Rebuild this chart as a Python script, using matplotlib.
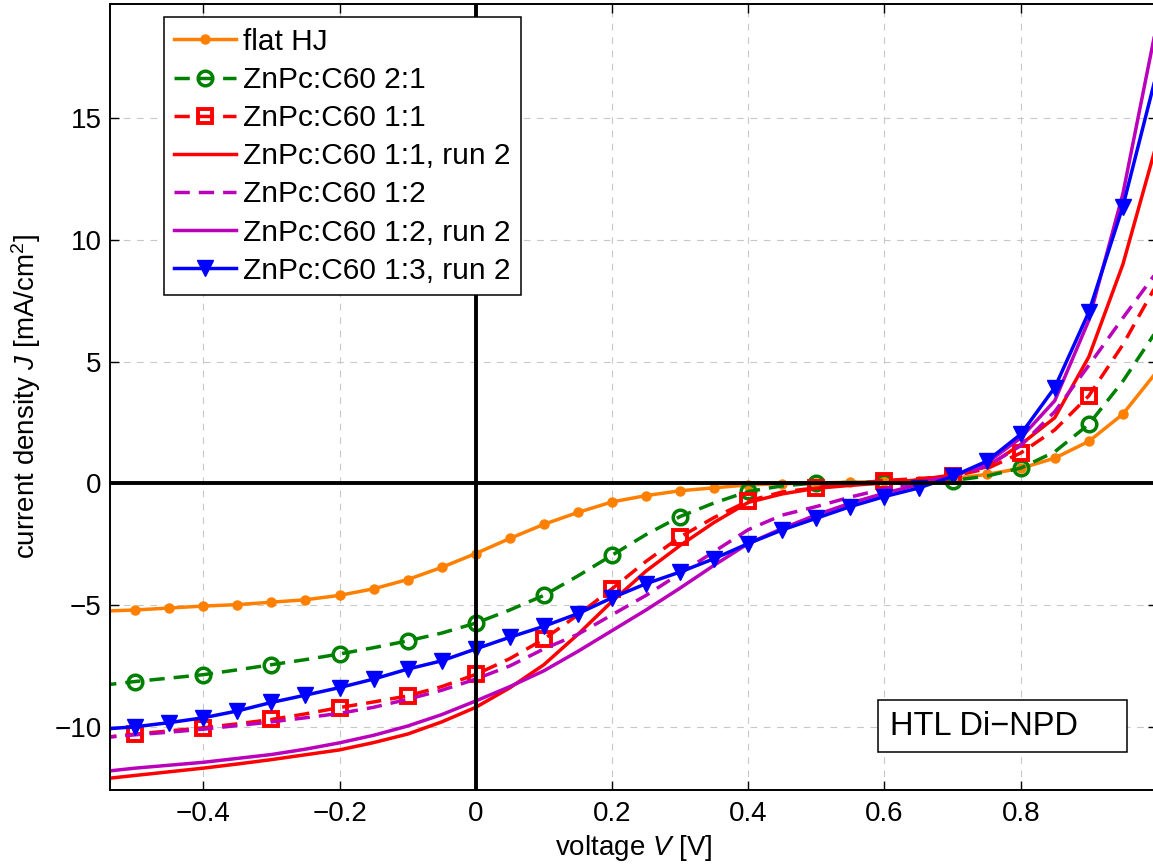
import matplotlib
matplotlib.use("Agg")
import matplotlib.pyplot as plt
from matplotlib.patches import Rectangle
import numpy as np

plt.rcParams['font.family'] = ['Liberation Sans', 'DejaVu Sans']
plt.rcParams['mathtext.fontset'] = 'custom'
plt.rcParams['mathtext.rm'] = 'Liberation Sans'
plt.rcParams['mathtext.it'] = 'Liberation Sans:italic'

# voltage grid, -0.55 ... 1.0 V in 0.05 V steps
volt = np.round(np.arange(-0.55, 1.0001, 0.05), 2)

# current density J [mA/cm^2]
flat_hj = [-5.25, -5.2, -5.12, -5.04, -4.98, -4.88, -4.78, -4.6, -4.33, -3.95, -3.45,
           -2.88, -2.26, -1.68, -1.19, -0.76, -0.5, -0.3, -0.18, -0.06, -0.01, 0.02,
           0.05, 0.08, 0.12, 0.2, 0.37, 0.62, 1.04, 1.73, 2.85, 4.6]
mix_2_1 = [-8.3, -8.14, -8.0, -7.86, -7.66, -7.45, -7.24, -7.01, -6.75, -6.47, -6.15,
           -5.74, -5.2, -4.6, -3.8, -2.95, -2.1, -1.36, -0.8, -0.33, -0.1, 0.02,
           0.04, 0.05, 0.07, 0.12, 0.3, 0.63, 1.3, 2.43, 4.2, 6.3]
mix_1_1 = [-10.45, -10.3, -10.17, -10.04, -9.88, -9.7, -9.47, -9.21, -8.98, -8.73, -8.35,
           -7.85, -7.2, -6.4, -5.4, -4.33, -3.2, -2.2, -1.4, -0.72, -0.35, -0.18,
           -0.02, 0.12, 0.2, 0.3, 0.6, 1.25, 2.2, 3.6, 5.7, 8.2]
mix_1_1_r2 = [-12.15, -12.0, -11.85, -11.7, -11.53, -11.35, -11.15, -10.95, -10.65, -10.3, -9.8,
              -9.2, -8.4, -7.45, -6.2, -4.85, -3.6, -2.55, -1.6, -0.78, -0.43, -0.2,
              -0.08, 0.02, 0.15, 0.35, 0.68, 1.6, 2.7, 5.2, 9.0, 14.0]
mix_1_2 = [-10.45, -10.33, -10.22, -10.1, -9.95, -9.8, -9.63, -9.45, -9.2, -8.87, -8.5,
           -8.04, -7.5, -6.8, -6.2, -5.4, -4.6, -3.7, -2.8, -1.9, -1.3, -0.95,
           -0.56, -0.22, 0.05, 0.3, 0.7, 1.55, 2.95, 4.85, 6.8, 8.7]
mix_1_2_r2 = [-11.85, -11.7, -11.58, -11.46, -11.3, -11.14, -10.92, -10.66, -10.35, -9.97, -9.5,
              -8.94, -8.35, -7.7, -6.9, -6.05, -5.2, -4.3, -3.36, -2.47, -1.85, -1.29,
              -0.81, -0.4, -0.05, 0.29, 0.84, 1.87, 3.4, 6.7, 11.9, 18.9]
mix_1_3_r2 = [-10.1, -10.0, -9.83, -9.63, -9.35, -9.0, -8.7, -8.39, -8.04, -7.63, -7.29,
              -6.8, -6.32, -5.87, -5.35, -4.7, -4.12, -3.64, -3.09, -2.47, -1.91, -1.43,
              -0.95, -0.54, -0.19, 0.29, 0.91, 2.02, 3.94, 7.04, 11.38, 16.9]

labels = ['flat HJ', 'ZnPc:C60 2:1', 'ZnPc:C60 1:1', 'ZnPc:C60 1:1, run 2',
          'ZnPc:C60 1:2', 'ZnPc:C60 1:2, run 2', 'ZnPc:C60 1:3, run 2']

orange = '#FF8000'
green = '#008000'
red = '#FF0000'
purple = '#BB00BB'
blue = '#0000FF'
dash = (0, (4.4, 2.6))
lw = 2.5

fig = plt.figure(figsize=(11.53, 8.64), dpi=100)
ax = fig.add_axes([0.0954, 0.0856, 0.908, 0.9097])

ax.plot(volt, flat_hj, '-o', color=orange, lw=lw, ms=6.5, markevery=slice(1, 31), label=labels[0])
ax.plot(volt, mix_2_1, linestyle=dash, marker='o', color=green, lw=lw, ms=10.5, mfc='none',
        mew=2.5, markevery=slice(1, 30, 2), label=labels[1])
ax.plot(volt, mix_1_1, linestyle=dash, marker='s', color=red, lw=lw, ms=10, mfc='none',
        mew=2.8, markevery=slice(1, 30, 2), label=labels[2])
ax.plot(volt, mix_1_1_r2, '-', color=red, lw=lw, label=labels[3])
ax.plot(volt, mix_1_2, linestyle=dash, color=purple, lw=lw, label=labels[4])
ax.plot(volt, mix_1_2_r2, '-', color=purple, lw=lw, label=labels[5])
ax.plot(volt, mix_1_3_r2, '-v', color=blue, lw=lw, ms=11, markevery=slice(1, 31), label=labels[6])

ax.axhline(0, color='k', lw=2.8, zorder=3)
ax.axvline(0, color='k', lw=2.8, zorder=3)

ax.set_xlim(-0.537, 1.0)
ax.set_ylim(-12.6, 19.7)
ax.set_xticks([-0.4, -0.2, 0, 0.2, 0.4, 0.6, 0.8])
ax.set_xticklabels(['\u22120.4', '\u22120.2', '0', '0.2', '0.4', '0.6', '0.8'])
ax.set_yticks([-10, -5, 0, 5, 10, 15])
ax.set_yticklabels(['\u221210', '\u22125', '0', '5', '10', '15'])
ax.grid(True, color='#c8c8c8', linestyle=(0, (6, 6)), lw=0.8)
ax.tick_params(direction='in', top=True, right=True, length=6.5, width=1.0,
               labelsize=20)
ax.tick_params(axis='x', pad=8)
ax.tick_params(axis='y', pad=6)
for s in ax.spines.values():
    s.set_linewidth(1.4)

ax.set_xlabel('voltage $V$ [V]', fontsize=20)
ax.set_ylabel('current density $J$ [mA/cm$^2$]', fontsize=20)
ax.xaxis.set_label_coords(0.5, -0.055)
ax.yaxis.set_label_coords(-0.064, 0.5)

leg = ax.legend(loc='upper left', bbox_to_anchor=(0.0516, 0.983), borderaxespad=0,
                fontsize=21.5, numpoints=1, handlelength=2.05, handletextpad=0.25,
                labelspacing=0.34, borderpad=0.35, fancybox=False, framealpha=1)
leg.get_frame().set_edgecolor('k')
leg.get_frame().set_linewidth(1.1)
leg.set_zorder(5)

ax.add_patch(Rectangle((0.7335, 0.0483), 0.2378, 0.0662, transform=ax.transAxes,
                       facecolor='white', edgecolor='k', lw=1.1, zorder=5))
ax.text(0.745, 0.0814, 'HTL Di\u2212NPD', transform=ax.transAxes, fontsize=23.5,
        ha='left', va='center', zorder=6)

fig.savefig('out.png', dpi=100)
